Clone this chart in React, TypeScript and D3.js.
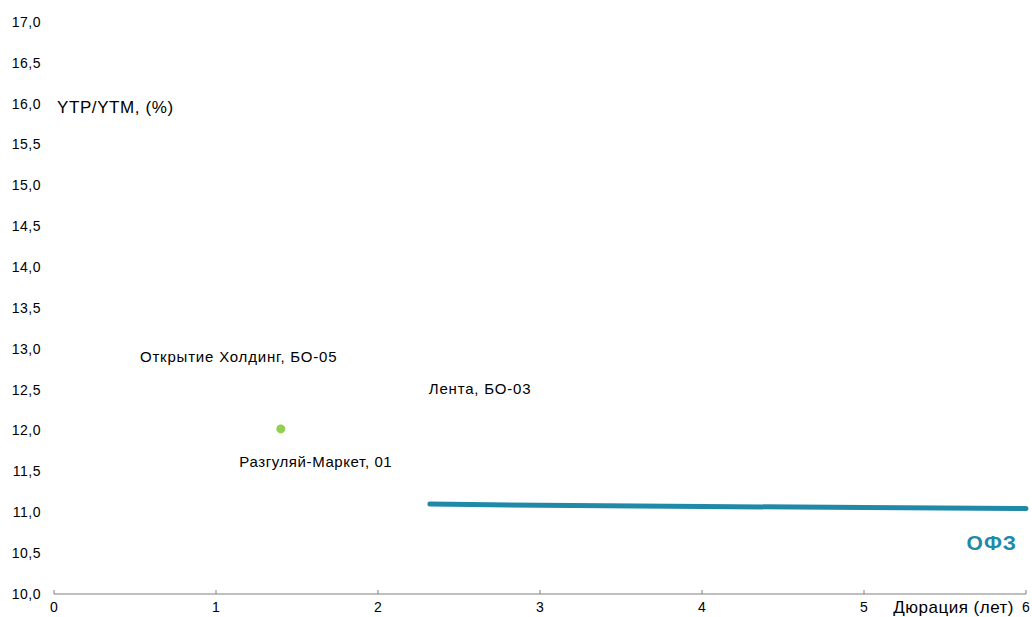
import { useEffect, useRef } from 'react'
import * as d3 from 'd3'

const xTicks = [0, 1, 2, 3, 4, 5, 6]
const yTicks = [10, 10.5, 11, 11.5, 12, 12.5, 13, 13.5, 14, 14.5, 15, 15.5, 16, 16.5, 17]

// кривая ОФЗ
const ofzDur = [2.32, 3, 4, 5, 6]
const ofzYield = [11.1, 11.085, 11.07, 11.06, 11.045]

// выпуски
const bondNames = ['Разгуляй-Маркет, 01']
const bondDur = [1.4]
const bondYield = [12.02]

// подписи без точек
const labelNames = ['Открытие Холдинг, БО-05', 'Лента, БО-03']
const labelDur = [1.14, 2.63]
const labelYield = [12.9, 12.51]

const W = 1032
const H = 617

export default function App() {
  const ref = useRef<SVGSVGElement>(null)

  useEffect(() => {
    if (!ref.current) return
    const svg = d3.select(ref.current)
    svg.selectAll('*').remove()

    const x = d3.scaleLinear().domain([0, 6]).range([54, 1026])
    const y = d3.scaleLinear().domain([10, 17]).range([594, 22])
    const font = 'Arial, "Liberation Sans", sans-serif'

    // ось X
    svg.append('line')
      .attr('x1', x(0)).attr('x2', x(6))
      .attr('y1', y(10)).attr('y2', y(10))
      .attr('stroke', '#808080').attr('stroke-width', 1)

    svg.selectAll('.xtick')
      .data(xTicks)
      .enter()
      .append('line')
      .attr('x1', d => x(d)).attr('x2', d => x(d))
      .attr('y1', y(10) - 4).attr('y2', y(10))
      .attr('stroke', '#808080')

    svg.selectAll('.xlabel')
      .data(xTicks)
      .enter()
      .append('text')
      .attr('x', d => x(d))
      .attr('y', y(10) + 18)
      .attr('text-anchor', 'middle')
      .style('font-family', font)
      .style('font-size', '14px')
      .attr('fill', '#000')
      .text(d => String(d))

    // подписи оси Y
    svg.selectAll('.ylabel')
      .data(yTicks)
      .enter()
      .append('text')
      .attr('x', 41)
      .attr('y', d => y(d))
      .attr('dy', '0.35em')
      .attr('text-anchor', 'end')
      .style('font-family', font)
      .style('font-size', '14px')
      .style('letter-spacing', '0.5px')
      .attr('fill', '#000')
      .text(d => d3.format('.1f')(d).replace('.', ','))

    svg.append('text')
      .attr('x', 57).attr('y', 107)
      .attr('dy', '0.35em')
      .style('font-family', font)
      .style('font-size', '17px')
      .style('letter-spacing', '0.6px')
      .text('YTP/YTM, (%)')

    svg.append('text')
      .attr('x', 1014).attr('y', 607)
      .attr('dy', '0.35em')
      .attr('text-anchor', 'end')
      .style('font-family', font)
      .style('font-size', '17px')
      .style('letter-spacing', '0.5px')
      .text('Дюрация (лет)')

    // кривая ОФЗ
    const line = d3.line<number>()
      .x((_, i) => x(ofzDur[i]))
      .y(d => y(d))
    svg.append('path')
      .datum(ofzYield)
      .attr('d', line)
      .attr('fill', 'none')
      .attr('stroke', '#2189a8')
      .attr('stroke-width', 5)
      .attr('stroke-linecap', 'round')

    svg.append('text')
      .attr('x', 1017).attr('y', 543)
      .attr('dy', '0.35em')
      .attr('text-anchor', 'end')
      .style('font-family', font)
      .style('font-size', '21px')
      .style('font-weight', 'bold')
      .style('letter-spacing', '1px')
      .attr('fill', '#2189a8')
      .text('ОФЗ')

    // точки
    svg.selectAll('.bond')
      .data(bondDur)
      .enter()
      .append('circle')
      .attr('cx', d => x(d))
      .attr('cy', (_, i) => y(bondYield[i]))
      .attr('r', 4.5)
      .attr('fill', '#92d050')

    svg.selectAll('.bondlabel')
      .data(bondNames)
      .enter()
      .append('text')
      .attr('x', (_, i) => x(bondDur[i]) + 35)
      .attr('y', (_, i) => y(bondYield[i]) + 33)
      .attr('dy', '0.35em')
      .attr('text-anchor', 'middle')
      .style('font-family', font)
      .style('font-size', '15px')
      .style('letter-spacing', '0.6px')
      .text(d => d)

    svg.selectAll('.extralabel')
      .data(labelNames)
      .enter()
      .append('text')
      .attr('x', (_, i) => x(labelDur[i]))
      .attr('y', (_, i) => y(labelYield[i]))
      .attr('dy', '0.35em')
      .attr('text-anchor', 'middle')
      .style('font-family', font)
      .style('font-size', '15px')
      .style('letter-spacing', '0.8px')
      .text(d => d)
  }, [])

  return (
    <svg
      ref={ref}
      width={W}
      height={H}
      style={{ position: 'absolute', left: 0, top: 0, background: '#fff' }}
    />
  )
}
